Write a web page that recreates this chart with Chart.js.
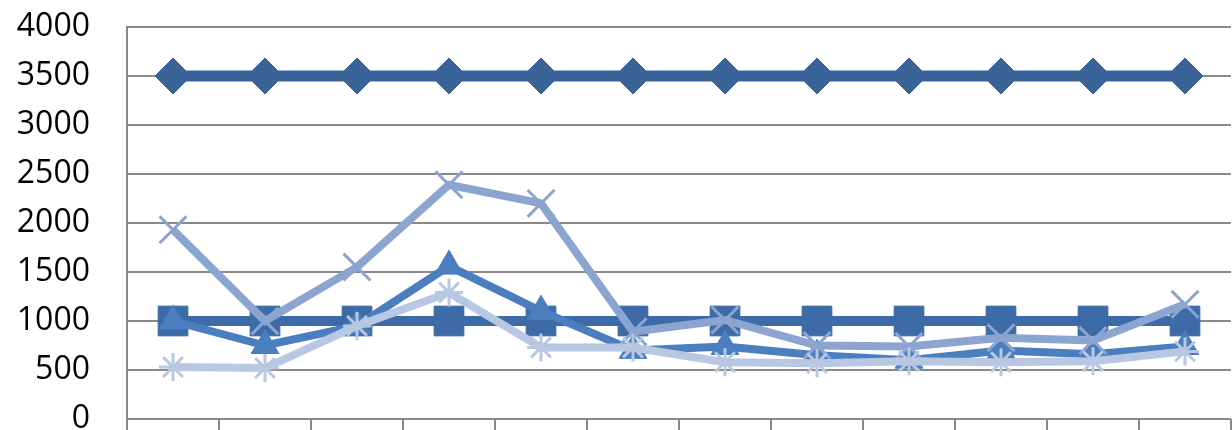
<!DOCTYPE html>
<html>
<head>
<meta charset="utf-8">
<script src="https://cdn.jsdelivr.net/npm/chart.js@4"></script>
<style>
  html, body { margin: 0; padding: 0; background: #fff; }
  #wrap { width: 1232px; height: 430px; }
</style>
</head>
<body>
<div id="wrap"><canvas id="myChart"></canvas></div>
<script>
// categories (no visible labels on the x axis)
const categories = ['1', '2', '3', '4', '5', '6', '7', '8', '9', '10', '11', '12'];

// series values
const diamondValues = [3500, 3500, 3500, 3500, 3500, 3500, 3500, 3500, 3500, 3500, 3500, 3500];
const squareValues  = [1000, 1000, 1000, 1000, 1000, 1000, 1000, 1000, 1000, 1000, 1000, 1000];
const triangleValues = [1000, 750, 950, 1560, 1100, 700, 740, 650, 600, 700, 660, 740];
const crossValues   = [1930, 1000, 1550, 2390, 2200, 890, 1010, 750, 740, 830, 800, 1170];
const starValues    = [530, 520, 950, 1290, 730, 730, 580, 570, 590, 580, 590, 690];

// y axis
const yMin = 0;
const yMax = 4000;
const yStep = 500;

function line(values, color, width, style, radius, order, pointBorder) {
  return {
    data: values,
    borderColor: color,
    backgroundColor: color,
    borderWidth: width,
    pointStyle: style,
    pointRadius: radius,
    pointHoverRadius: radius,
    pointBorderWidth: pointBorder,
    pointBackgroundColor: color,
    pointBorderColor: color,
    tension: 0,
    order: order
  };
}

new Chart('myChart', {
  type: 'line',
  data: {
    labels: categories,
    datasets: [
      line(diamondValues, '#3a6399', 11, 'rectRot', 18, 5, 1),
      line(squareValues, '#3c6ba8', 10, 'rect', 21, 4, 1),
      line(triangleValues, '#4a7ebf', 8, 'triangle', 16, 3, 1),
      line(crossValues, '#8ca5d0', 8, 'crossRot', 19, 2, 3),
      line(starValues, '#b8c7e2', 8, 'star', 14, 1, 3)
    ]
  },
  options: {
    responsive: true,
    maintainAspectRatio: false,
    animation: false,
    layout: { autoPadding: false, padding: { top: 27, right: 1, bottom: 0, left: 0 } },
    plugins: {
      legend: { display: false },
      tooltip: { enabled: false }
    },
    scales: {
      x: {
        offset: true,
        grid: {
          offset: true,
          drawOnChartArea: false,
          drawTicks: true,
          tickLength: 11,
          color: '#898989',
          lineWidth: 2
        },
        border: { display: false },
        ticks: { display: false },
        afterFit: (s) => {
          s.height = 11;
          s.paddingLeft = 0;
          s.paddingRight = 0;
        }
      },
      y: {
        min: yMin,
        max: yMax,
        ticks: {
          stepSize: yStep,
          color: '#000',
          padding: 37,
          font: { family: 'Open Sans', size: 32 },
          callback: (v) => String(v)
        },
        grid: {
          color: '#898989',
          lineWidth: 2,
          drawTicks: false
        },
        border: { color: '#898989', width: 2 },
        afterFit: (s) => {
          s.width = 127;
          s.paddingTop = 0;
          s.paddingBottom = 0;
        }
      }
    }
  }
});
</script>
</body>
</html>
